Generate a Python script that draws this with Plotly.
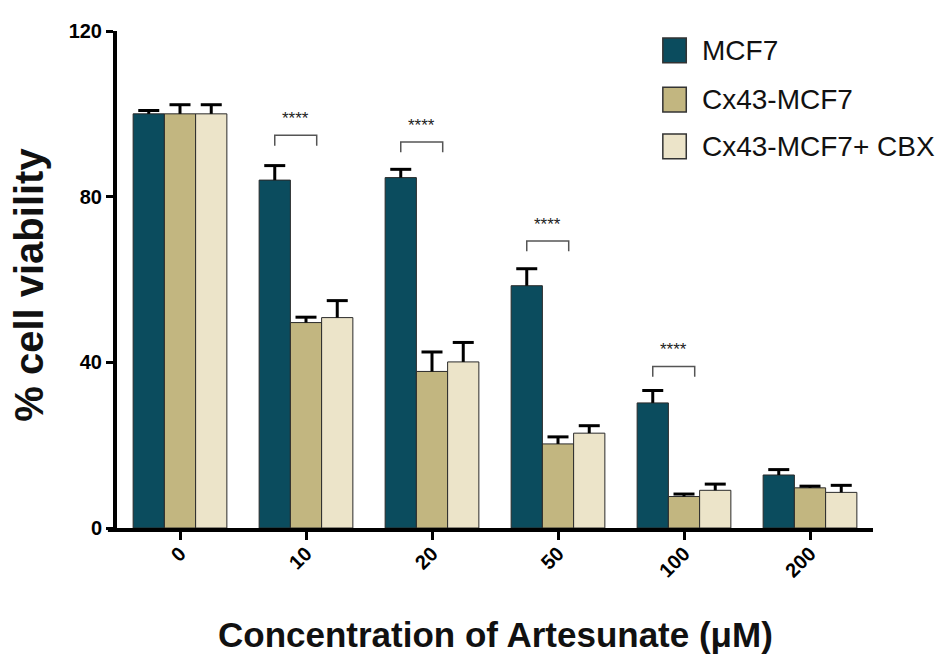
import plotly.graph_objects as go

# ---- data ----
concentrations = ["0", "10", "20", "50", "100", "200"]
series_names = ["MCF7", "Cx43-MCF7", "Cx43-MCF7+ CBX"]
mcf7 = [100.0, 84.0, 84.6, 58.5, 30.2, 12.8]
mcf7_err = [0.8, 3.5, 2.0, 4.1, 3.0, 1.3]
cx43 = [100.0, 49.6, 37.8, 20.3, 7.6, 9.7]
cx43_err = [2.2, 1.3, 4.7, 1.7, 0.6, 0.4]
cbx = [100.0, 50.8, 40.1, 22.9, 9.1, 8.6]
cbx_err = [2.2, 4.1, 4.7, 1.8, 1.5, 1.7]
sig_groups = [1, 2, 3, 4]
sig_y = [94.8, 93.2, 69.3, 39.0]
sig_text = ["****", "****", "****", "****"]
y_ticks = [0, 40, 80, 120]

colors = ["#0b4c5e", "#c2b680", "#ece4c9"]
FONT = "Liberation Sans, Arial, sans-serif"

bw = 0.248
offsets = [-bw, 0.0, bw]
idx = list(range(len(concentrations)))

fig = go.Figure()
all_vals = [mcf7, cx43, cbx]
all_errs = [mcf7_err, cx43_err, cbx_err]
for k in range(3):
    xs = [i + offsets[k] for i in idx]
    vals = all_vals[k]
    errs = all_errs[k]
    fig.add_trace(go.Bar(
        x=xs, y=vals, width=bw, name=series_names[k],
        marker=dict(color=colors[k], line=dict(color="#2a2a2a", width=1)),
        error_y=dict(type="data", symmetric=False, array=errs,
                     arrayminus=[0] * len(errs), width=0, thickness=3,
                     color="black"),
        showlegend=False,
    ))
    fig.add_trace(go.Scatter(
        x=xs, y=[v + e for v, e in zip(vals, errs)], mode="markers",
        marker=dict(symbol="line-ew", size=15,
                    line=dict(color="black", width=3)),
        showlegend=False, hoverinfo="skip",
    ))

# significance brackets
shapes = []
annotations = []
for g, yv, txt in zip(sig_groups, sig_y, sig_text):
    x0 = g + offsets[0]
    x1 = g + 0.085
    shapes.append(dict(
        type="path", xref="x", yref="y",
        path=f"M {x0},{yv-2.5} L {x0},{yv} L {x1},{yv} L {x1},{yv-2.5}",
        line=dict(color="#555555", width=1.5),
    ))
    annotations.append(dict(
        x=(x0 + x1) / 2, y=yv + 4.0, xref="x", yref="y", text=txt,
        showarrow=False, font=dict(family=FONT, size=17, color="#222222"),
        yanchor="middle",
    ))

# x-axis line stub left of the y axis
shapes.append(dict(type="line", xref="paper", yref="paper",
                   x0=-0.012, x1=0.0, y0=-0.004, y1=-0.004,
                   line=dict(color="black", width=4)))

# custom legend
leg_y = [0.961, 0.862, 0.768]
for k in range(3):
    shapes.append(dict(
        type="rect", xref="paper", yref="paper",
        x0=0.722, x1=0.753, y0=leg_y[k] - 0.025, y1=leg_y[k] + 0.025,
        fillcolor=colors[k], line=dict(color="#333333", width=1.5),
    ))
    annotations.append(dict(
        x=0.771, y=leg_y[k], xref="paper", yref="paper",
        text=series_names[k], showarrow=False, xanchor="left",
        yanchor="middle", font=dict(family=FONT, size=28, color="#111111"),
    ))

# axis titles
annotations.append(dict(
    x=-0.116, y=0.49, xref="paper", yref="paper", text="<b>% cell viability</b>",
    textangle=-90, showarrow=False, xanchor="center", yanchor="middle",
    font=dict(family=FONT, size=40, color="#111111"),
))
annotations.append(dict(
    x=0.5, y=-0.215, xref="paper", yref="paper",
    text="<b>Concentration of Artesunate (μM)</b>",
    showarrow=False, xanchor="center", yanchor="middle",
    font=dict(family=FONT, size=35, color="#111111"),
))

# page body has an 8px margin: size the figure so it fills 946x654 exactly
fig.update_layout(
    width=938, height=646,
    margin=dict(l=109, r=73, t=18, b=126),
    paper_bgcolor="white", plot_bgcolor="white",
    barmode="overlay",
    shapes=shapes, annotations=annotations,
    showlegend=False,
)
fig.update_xaxes(
    range=[-0.5, 5.5], tickvals=idx, ticktext=[f"<b>{c}</b>" for c in concentrations],
    tickangle=-45, showline=True, linecolor="black", linewidth=4,
    ticks="outside", ticklen=8, tickwidth=3, tickcolor="black",
    showgrid=False, zeroline=False, ticklabelstandoff=-6,
    tickfont=dict(family=FONT, size=20, color="black"),
)
fig.update_yaxes(
    range=[0, 120], tickvals=y_ticks, ticktext=[f"<b>{t}</b>" for t in y_ticks],
    showline=True, linecolor="black", linewidth=4,
    ticks="outside", ticklen=7, tickwidth=3, tickcolor="black",
    showgrid=False, zeroline=False,
    tickfont=dict(family=FONT, size=20, color="black"),
)

fig.write_html("out.html")
